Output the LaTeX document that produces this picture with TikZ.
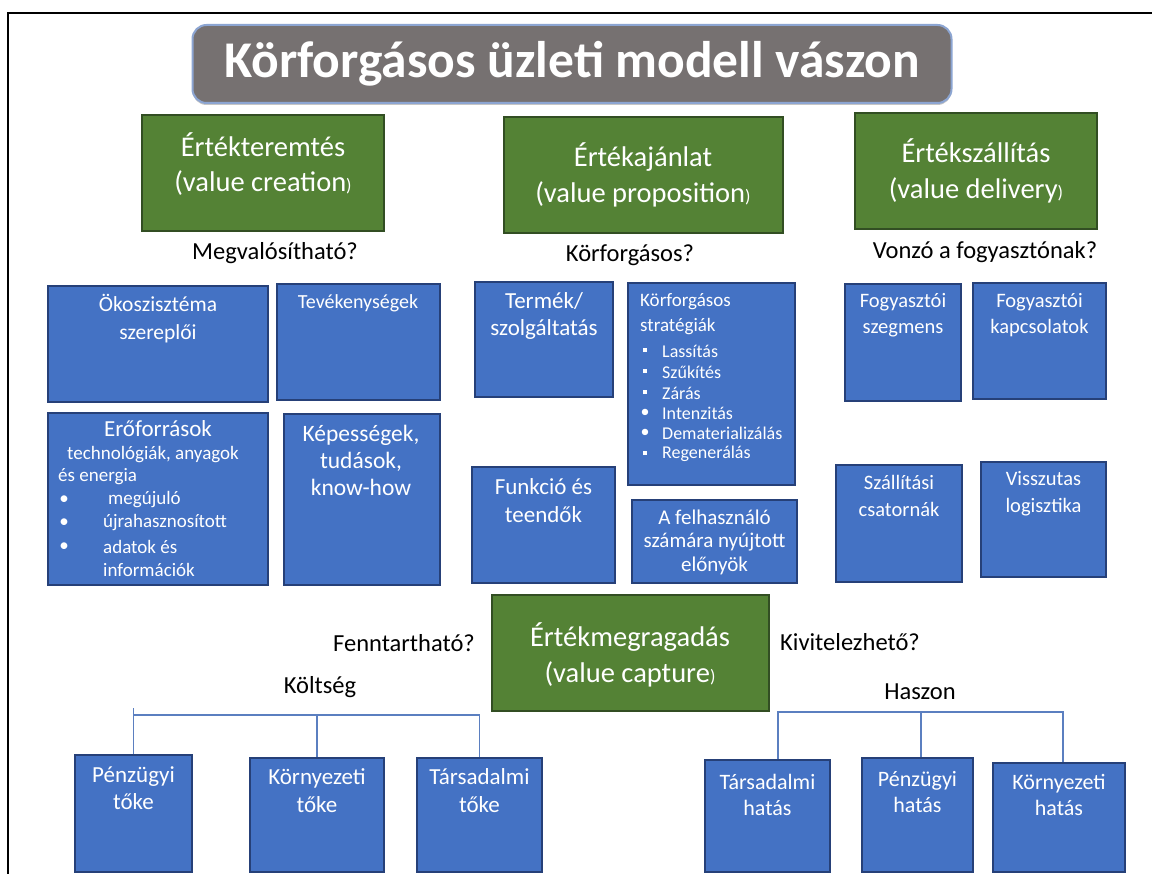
\documentclass[tikz,border=0pt]{standalone}
\usepackage{fontspec}
\setmainfont{Carlito}
\usetikzlibrary{fit,shadows}
\definecolor{bfill}{RGB}{68,114,196}
\definecolor{bdraw}{RGB}{38,64,120}
\definecolor{gfill}{RGB}{84,130,53}
\definecolor{gdraw}{RGB}{50,78,35}
\definecolor{tfill}{RGB}{118,113,113}
\definecolor{tdraw}{RGB}{140,165,210}
\definecolor{treecol}{RGB}{91,127,192}
\newcommand\fsz[2]{\fontsize{#1}{#2}\selectfont}
\newcommand\smp{{\fsz{18}{18})}}
\newcommand\sqb{\rule[0.2ex]{4pt}{4pt}}
\newcommand\cbox[6]{\node[#1, fit={(#3,#4) (#5,#6)}] (#2) {};}
\begin{document}
\begin{tikzpicture}[x=1pt,y=-1pt,
  bluebox/.style={draw=bdraw, fill=bfill, line width=1.5pt, inner sep=0pt},
  greenbox/.style={draw=gdraw, fill=gfill, line width=1.5pt, inner sep=0pt},
  titlebox/.style={draw=tdraw, fill=tfill, line width=2pt, rounded corners=14pt, inner sep=0pt,
    drop shadow={opacity=0.45, shadow xshift=0pt, shadow yshift=-2pt}},
  btxt/.style={text=white, align=center, inner sep=0pt},
  ltxt/.style={text=white, inner sep=0pt, anchor=west},
  qtxt/.style={text=black, inner sep=0pt, font=\fsz{24.5}{28}},
  gtxt/.style={text=white, align=center, inner sep=0pt},
  treeline/.style={draw=treecol, line width=1.5pt}]

\useasboundingbox[fill=white] (0,0) rectangle (1152,874);
\draw[line width=2pt] (8,874) -- (8,13) -- (1152,13);

% title
\node[titlebox, minimum width=759pt, minimum height=78pt, text=white, font=\fsz{51.5}{60}\bfseries]
  (title) at (572,64) {Körforgásos üzleti modell vászon};

% green boxes
\cbox{greenbox}{vc}{142}{115}{384}{231}
\cbox{greenbox}{vp}{504}{117}{783}{233}
\cbox{greenbox}{vd}{855}{113}{1097}{229}
\cbox{greenbox}{vcap}{492}{595}{769}{711}
\node[gtxt, font=\fsz{28.5}{35}] (vcT) at (263,164.5) {Értékteremtés\\(value creation\smp};
\node[gtxt, font=\fsz{28.5}{36}] (vpT) at (643,175) {Értékajánlat\\(value proposition\smp};
\node[gtxt, font=\fsz{28.5}{36}] (vdT) at (976,171) {Értékszállítás\\(value delivery\smp};
\node[gtxt, font=\fsz{28.5}{36}] (vcapT) at (630,655) {Értékmegragadás\\(value capture\smp};

% question labels
\node[qtxt] (q1) at (275,253) {Megvalósítható?};
\node[qtxt] (q2) at (630,255) {Körforgásos?};
\node[qtxt] (q3) at (985,252) {Vonzó a fogyasztónak?};
\node[qtxt] (q4) at (404,643) {Fenntartható?};
\node[qtxt] (q5) at (850,642) {Kivitelezhető?};
\node[qtxt] (q6) at (320,687) {Költség};
\node[qtxt] (q7) at (920,692) {Haszon};

% blue boxes
\cbox{bluebox}{eco}{48}{286}{268}{402}
\cbox{bluebox}{tev}{277}{284}{440}{400}
\cbox{bluebox}{ero}{48}{413}{268}{585}
\cbox{bluebox}{kep}{284}{414}{440}{585}
\cbox{bluebox}{ter}{475}{282}{613}{397}
\cbox{bluebox}{kor}{628}{283}{795}{485}
\cbox{bluebox}{fun}{472}{467}{615}{583}
\cbox{bluebox}{fel}{632}{500}{797}{583}
\cbox{bluebox}{fsz}{845}{284}{961}{401}
\cbox{bluebox}{fka}{973}{283}{1106}{399}
\cbox{bluebox}{szc}{836}{465}{962}{582}
\cbox{bluebox}{vis}{981}{462}{1106}{577}
\cbox{bluebox}{pt}{75}{755}{192}{872}
\cbox{bluebox}{kt}{250}{758}{384}{872}
\cbox{bluebox}{tt}{417}{758}{542}{872}
\cbox{bluebox}{th}{705}{760}{830}{872}
\cbox{bluebox}{ph}{862}{758}{973}{872}
\cbox{bluebox}{kh}{993}{763}{1125}{872}

% blue box texts
\node[btxt, font=\fsz{21.5}{28}] (ecoT) at (158,319) {Ökoszisztéma\\szereplői};
\node[btxt, font=\fsz{20}{24}] (tevT) at (358,303) {Tevékenységek};
\node[btxt, font=\fsz{23}{28}] (eroT) at (158,429) {Erőforrások};
\node[btxt, font=\fsz{19}{23}] (ero1) at (153,455) {technológiák, anyagok};
\node[ltxt, font=\fsz{19}{23}] (ero2) at (58,477) {és energia};
\node[btxt, font=\fsz{19}{23}] (erob1) at (64,500) {\textbullet};
\node[btxt, font=\fsz{19}{23}] (erob2) at (64,523) {\textbullet};
\node[btxt, font=\fsz{19}{23}] (erob3) at (64,547) {\textbullet};
\node[ltxt, font=\fsz{19}{23}] (ero3) at (108,500) {megújuló};
\node[ltxt, font=\fsz{19}{23}] (ero4) at (103,523) {újrahasznosított};
\node[ltxt, font=\fsz{19}{23}] (ero5) at (103,547) {adatok és};
\node[ltxt, font=\fsz{19}{23}] (ero6) at (103,570) {információk};
\node[btxt, font=\fsz{23.5}{27}] (kepT) at (361,460) {Képességek,\\tudások,\\know-how};

\node[btxt, font=\fsz{23}{27}] (terT) at (544,315.5) {Termék/\\szolgáltatás};
\node[ltxt, align=left, font=\fsz{19}{25}] (korT) at (640,314.5) {Körforgásos\\stratégiák};
\node[btxt, font=\fsz{18}{21}] (korb1) at (645,351) {\sqb};
\node[btxt, font=\fsz{18}{21}] (korb2) at (645,372) {\sqb};
\node[btxt, font=\fsz{18}{21}] (korb3) at (645,393) {\sqb};
\node[btxt, font=\fsz{18}{21}] (korb4) at (645,413) {\textbullet};
\node[btxt, font=\fsz{18}{21}] (korb5) at (645,433) {\textbullet};
\node[btxt, font=\fsz{18}{21}] (korb6) at (645,454) {\sqb};
\node[ltxt, font=\fsz{18}{21}] (kor1) at (662,351) {Lassítás};
\node[ltxt, font=\fsz{18}{21}] (kor2) at (662,372) {Szűkítés};
\node[ltxt, font=\fsz{18}{21}] (kor3) at (662,393) {Zárás};
\node[ltxt, font=\fsz{18}{21}] (kor4) at (662,413) {Intenzitás};
\node[ltxt, font=\fsz{18}{21}] (kor5) at (662,433) {Dematerializálás};
\node[ltxt, font=\fsz{18}{21}] (kor6) at (662,454) {Regenerálás};
\node[btxt, font=\fsz{23}{28}] (funT) at (543.5,501) {Funkció és\\teendők};
\node[btxt, font=\fsz{21}{23.5}] (felT) at (714.5,542) {A felhasználó\\számára nyújtott\\előnyök};

\node[btxt, font=\fsz{20.5}{26}] (fszT) at (903,315) {Fogyasztói\\szegmens};
\node[btxt, font=\fsz{20.5}{26}] (fkaT) at (1039.5,315) {Fogyasztói\\kapcsolatok};
\node[btxt, font=\fsz{20.5}{27}] (szcT) at (899,496) {Szállítási\\csatornák};
\node[btxt, font=\fsz{20.5}{27}] (visT) at (1043.5,493.5) {Visszutas\\logisztika};

\node[btxt, font=\fsz{23}{27}] (ptT) at (133.5,788.5) {Pénzügyi\\tőke};
\node[btxt, font=\fsz{23}{28}] (ktT) at (317,791) {Környezeti\\tőke};
\node[btxt, font=\fsz{23}{28}] (ttT) at (479.5,791) {Társadalmi\\tőke};
\node[btxt, font=\fsz{22}{26}] (thT) at (767.5,795) {Társadalmi\\hatás};
\node[btxt, font=\fsz{22}{26}] (phT) at (917.5,792.5) {Pénzügyi\\hatás};
\node[btxt, font=\fsz{22}{26}] (khT) at (1059,795) {Környezeti\\hatás};

% trees
\coordinate (kbar) at (0,715);
\coordinate (ktop) at (0,708);
\draw[treeline] (pt.north|-ktop) -- (pt.north);
\draw[treeline] (pt.north|-kbar) -- (tt.north|-kbar) -- (tt.north);
\draw[treeline] (kt.north|-kbar) -- (kt.north);
\coordinate (hbar) at (0,712);
\coordinate (thc) at ([xshift=10.5pt]th.north);
\coordinate (phc) at ([xshift=3.5pt]ph.north);
\coordinate (khc) at ([xshift=4pt]kh.north);
\draw[treeline] (thc) -- (thc|-hbar) -- (khc|-hbar) -- (khc);
\draw[treeline] (phc|-hbar) -- (phc);
\end{tikzpicture}
\end{document}
